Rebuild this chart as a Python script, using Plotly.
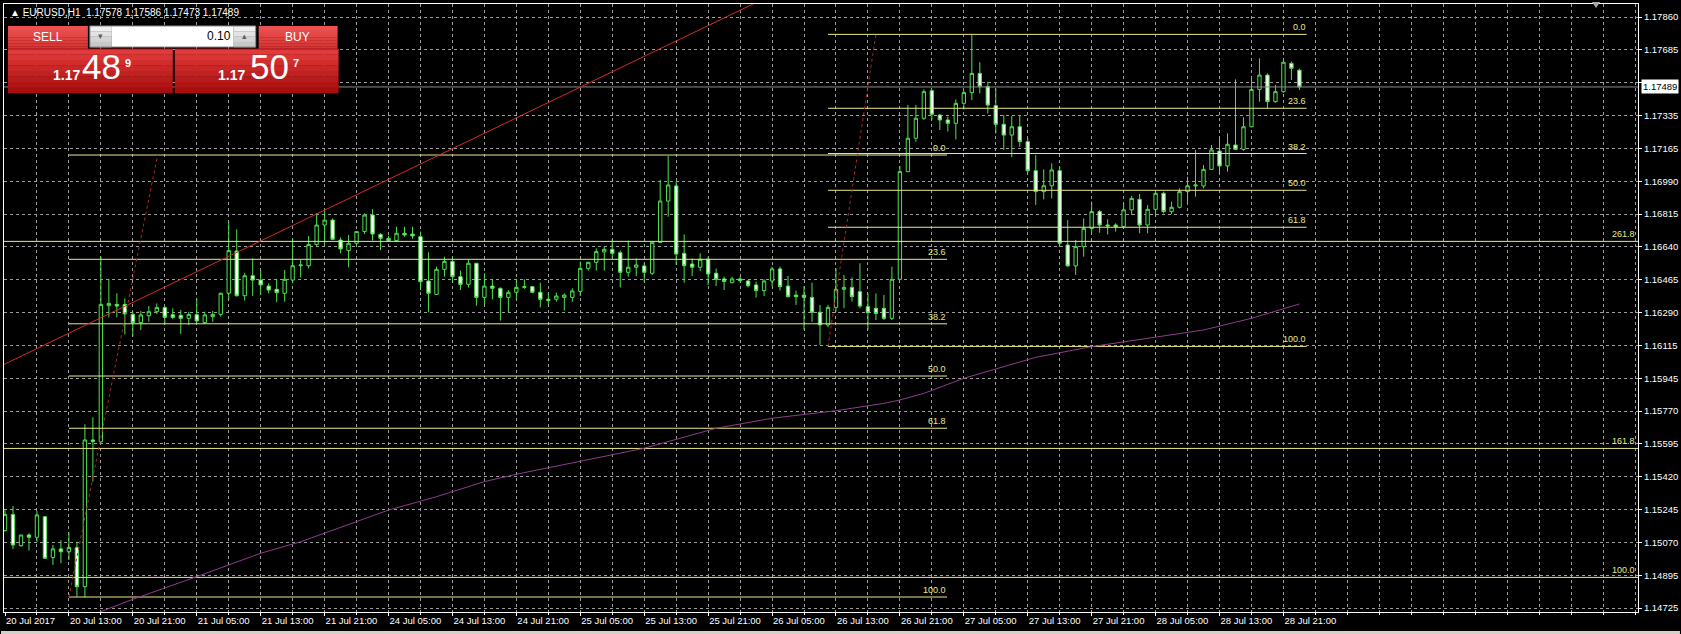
import numpy as np
import plotly.graph_objects as go

# ---- chart data (EURUSD H1) ----
date_labels = ["20 Jul 2017", "20 Jul 13:00", "20 Jul 21:00", "21 Jul 05:00", "21 Jul 13:00",
               "21 Jul 21:00", "24 Jul 05:00", "24 Jul 13:00", "24 Jul 21:00", "25 Jul 05:00",
               "25 Jul 13:00", "25 Jul 21:00", "26 Jul 05:00", "26 Jul 13:00", "26 Jul 21:00",
               "27 Jul 05:00", "27 Jul 13:00", "27 Jul 21:00", "28 Jul 05:00", "28 Jul 13:00",
               "28 Jul 21:00"]

price_labels = ["1.17860", "1.17685", "1.17510", "1.17335", "1.17165", "1.16990", "1.16815",
                "1.16640", "1.16465", "1.16290", "1.16115", "1.15945", "1.15770", "1.15595",
                "1.15420", "1.15245", "1.15070", "1.14895", "1.14725"]

opens = [1.15136, 1.15222, 1.15056, 1.15113, 1.15101, 1.15210, 1.14993, 1.15039, 1.15024, 1.15046,
         1.14839, 1.15617, 1.15608, 1.16329, 1.16336, 1.16336, 1.16283, 1.16239, 1.16276, 1.16297,
         1.16319, 1.16281, 1.16278, 1.16262, 1.16281, 1.16239, 1.16271, 1.16283, 1.16395, 1.16619,
         1.16382, 1.16488, 1.16465, 1.16433, 1.16416, 1.16395, 1.16465, 1.16541, 1.16541, 1.16654,
         1.16757, 1.16783, 1.16677, 1.16621, 1.16660, 1.16722, 1.16810, 1.16707, 1.16686, 1.16674,
         1.16713, 1.16709, 1.16695, 1.16460, 1.16389, 1.16522, 1.16564, 1.16483, 1.16442, 1.16554,
         1.16373, 1.16433, 1.16421, 1.16373, 1.16400, 1.16426, 1.16430, 1.16400, 1.16363, 1.16363,
         1.16373, 1.16373, 1.16405, 1.16527, 1.16559, 1.16614, 1.16628, 1.16610, 1.16506, 1.16533,
         1.16540, 1.16501, 1.16665, 1.16884, 1.16964, 1.16607, 1.16550, 1.16533, 1.16575, 1.16501,
         1.16471, 1.16451, 1.16471, 1.16460, 1.16439, 1.16409, 1.16460, 1.16524, 1.16433, 1.16385,
         1.16385, 1.16373, 1.16294, 1.16227, 1.16320, 1.16416, 1.16426, 1.16403, 1.16324, 1.16315,
         1.16315, 1.16262, 1.16469, 1.17040, 1.17217, 1.17323, 1.17469, 1.17340, 1.17314, 1.17296,
         1.17402, 1.17459, 1.17561, 1.17491, 1.17390, 1.17291, 1.17234, 1.17278, 1.17199, 1.17045,
         1.16934, 1.16965, 1.17045, 1.16651, 1.16540, 1.16642, 1.16739, 1.16828, 1.16757, 1.16757,
         1.16748, 1.16837, 1.16893, 1.16757, 1.16840, 1.16925, 1.16828, 1.16851, 1.16934, 1.16964,
         1.16964, 1.17052, 1.17149, 1.17070, 1.17181, 1.17158, 1.17278, 1.17476, 1.17552, 1.17411,
         1.17464, 1.17614, 1.17578]
highs = [1.15245, 1.15267, 1.15113, 1.15122, 1.15240, 1.15213, 1.15060, 1.15086, 1.15127, 1.15077,
         1.15700, 1.15737, 1.16589, 1.16471, 1.16395, 1.16368, 1.16297, 1.16301, 1.16327, 1.16341,
         1.16327, 1.16315, 1.16306, 1.16297, 1.16368, 1.16297, 1.16301, 1.16398, 1.16775, 1.16734,
         1.16504, 1.16580, 1.16518, 1.16448, 1.16471, 1.16518, 1.16686, 1.16571, 1.16699, 1.16819,
         1.16836, 1.16792, 1.16691, 1.16704, 1.16722, 1.16819, 1.16840, 1.16713, 1.16699, 1.16748,
         1.16748, 1.16748, 1.16722, 1.16612, 1.16536, 1.16589, 1.16589, 1.16515, 1.16575, 1.16554,
         1.16501, 1.16471, 1.16426, 1.16412, 1.16471, 1.16469, 1.16433, 1.16451, 1.16398, 1.16398,
         1.16394, 1.16421, 1.16562, 1.16562, 1.16633, 1.16642, 1.16681, 1.16621, 1.16674, 1.16580,
         1.16554, 1.16665, 1.16996, 1.17123, 1.16987, 1.16707, 1.16580, 1.16607, 1.16589, 1.16527,
         1.16483, 1.16483, 1.16483, 1.16465, 1.16456, 1.16469, 1.16536, 1.16536, 1.16487, 1.16409,
         1.16433, 1.16451, 1.16333, 1.16333, 1.16527, 1.16492, 1.16479, 1.16554, 1.16394, 1.16394,
         1.16386, 1.16536, 1.17070, 1.17393, 1.17393, 1.17476, 1.17476, 1.17346, 1.17332, 1.17423,
         1.17469, 1.17768, 1.17620, 1.17517, 1.17482, 1.17340, 1.17335, 1.17335, 1.17217, 1.17128,
         1.17052, 1.17084, 1.17066, 1.16783, 1.16677, 1.16792, 1.16881, 1.16837, 1.16787, 1.16766,
         1.16875, 1.16911, 1.16921, 1.16863, 1.16934, 1.16934, 1.16881, 1.16951, 1.17013, 1.17155,
         1.17075, 1.17181, 1.17225, 1.17243, 1.17529, 1.17328, 1.17544, 1.17641, 1.17561, 1.17499,
         1.17637, 1.17623, 1.17586]
lows = [1.15131, 1.15037, 1.15051, 1.15030, 1.15077, 1.14986, 1.14954, 1.14963, 1.14980, 1.14786,
        1.14782, 1.15396, 1.15599, 1.16267, 1.16267, 1.16177, 1.16165, 1.16200, 1.16244, 1.16285,
        1.16232, 1.16257, 1.16179, 1.16227, 1.16239, 1.16232, 1.16244, 1.16271, 1.16359, 1.16377,
        1.16356, 1.16380, 1.16386, 1.16395, 1.16347, 1.16350, 1.16448, 1.16479, 1.16527, 1.16642,
        1.16656, 1.16677, 1.16607, 1.16532, 1.16651, 1.16709, 1.16674, 1.16624, 1.16670, 1.16670,
        1.16695, 1.16684, 1.16412, 1.16294, 1.16386, 1.16483, 1.16451, 1.16412, 1.16425, 1.16329,
        1.16329, 1.16363, 1.16250, 1.16294, 1.16359, 1.16418, 1.16395, 1.16320, 1.16333, 1.16350,
        1.16303, 1.16350, 1.16380, 1.16515, 1.16515, 1.16515, 1.16580, 1.16426, 1.16483, 1.16486,
        1.16456, 1.16492, 1.16663, 1.16801, 1.16545, 1.16451, 1.16486, 1.16513, 1.16439, 1.16433,
        1.16412, 1.16448, 1.16451, 1.16426, 1.16372, 1.16380, 1.16433, 1.16409, 1.16372, 1.16333,
        1.16200, 1.16244, 1.16121, 1.16214, 1.16297, 1.16315, 1.16351, 1.16315, 1.16200, 1.16253,
        1.16253, 1.16253, 1.16465, 1.17040, 1.17199, 1.17314, 1.17314, 1.17261, 1.17252, 1.17211,
        1.17370, 1.17420, 1.17455, 1.17349, 1.17243, 1.17155, 1.17116, 1.17172, 1.17031, 1.16863,
        1.16893, 1.16898, 1.16642, 1.16536, 1.16492, 1.16589, 1.16713, 1.16716, 1.16707, 1.16722,
        1.16739, 1.16810, 1.16713, 1.16713, 1.16801, 1.16819, 1.16815, 1.16845, 1.16872, 1.16907,
        1.16951, 1.17049, 1.17031, 1.17040, 1.17155, 1.17151, 1.17275, 1.17411, 1.17376, 1.17406,
        1.17459, 1.17526, 1.17473]
closes = [1.15222, 1.15060, 1.15113, 1.15101, 1.15219, 1.14989, 1.15039, 1.15024, 1.15047, 1.14839,
          1.15617, 1.15608, 1.16336, 1.16341, 1.16327, 1.16285, 1.16239, 1.16280, 1.16297, 1.16319,
          1.16267, 1.16267, 1.16262, 1.16283, 1.16248, 1.16280, 1.16283, 1.16395, 1.16621, 1.16382,
          1.16488, 1.16465, 1.16439, 1.16412, 1.16398, 1.16469, 1.16541, 1.16545, 1.16654, 1.16757,
          1.16783, 1.16681, 1.16630, 1.16660, 1.16722, 1.16810, 1.16709, 1.16686, 1.16674, 1.16713,
          1.16704, 1.16699, 1.16456, 1.16395, 1.16522, 1.16564, 1.16483, 1.16442, 1.16554, 1.16373,
          1.16433, 1.16421, 1.16373, 1.16400, 1.16426, 1.16430, 1.16400, 1.16363, 1.16356, 1.16380,
          1.16385, 1.16407, 1.16527, 1.16559, 1.16616, 1.16628, 1.16607, 1.16506, 1.16533, 1.16545,
          1.16506, 1.16665, 1.16884, 1.16969, 1.16603, 1.16541, 1.16533, 1.16575, 1.16497, 1.16469,
          1.16457, 1.16471, 1.16462, 1.16435, 1.16409, 1.16460, 1.16524, 1.16430, 1.16377, 1.16377,
          1.16373, 1.16294, 1.16227, 1.16320, 1.16416, 1.16426, 1.16377, 1.16327, 1.16292, 1.16288,
          1.16262, 1.16469, 1.17040, 1.17217, 1.17323, 1.17464, 1.17344, 1.17314, 1.17296, 1.17402,
          1.17459, 1.17561, 1.17491, 1.17393, 1.17291, 1.17234, 1.17278, 1.17199, 1.17045, 1.16934,
          1.16965, 1.17049, 1.16660, 1.16540, 1.16642, 1.16739, 1.16828, 1.16757, 1.16752, 1.16748,
          1.16837, 1.16898, 1.16757, 1.16840, 1.16925, 1.16828, 1.16851, 1.16934, 1.16965, 1.16969,
          1.17052, 1.17155, 1.17070, 1.17185, 1.17158, 1.17278, 1.17476, 1.17552, 1.17411, 1.17464,
          1.17620, 1.17588, 1.17489]

# moving average (purple), sampled points (bar index, price)
ma_bar = [11, 16, 24, 32, 37, 44, 48, 54, 60, 64, 72, 80, 89, 96, 104, 110, 112, 115, 120, 129,
          136, 143, 150, 156, 162]
ma_price = [1.14690, 1.14772, 1.14892, 1.15016, 1.15077, 1.15183, 1.15245, 1.15316, 1.15396,
            1.15435, 1.15505, 1.15573, 1.15679, 1.15732, 1.15772, 1.15811, 1.15829, 1.15864,
            1.15944, 1.16055, 1.16112, 1.16156, 1.16200, 1.16262, 1.16338]

# red trend line (two anchor points)
trend_bar = [-0.5, 94.6]
trend_price = [1.16010, 1.17949]

# fibonacci retracements
fibo_levels = ["0.0", "23.6", "38.2", "50.0", "61.8", "100.0"]
fibo_a_prices = [1.17128, 1.16575, 1.16233, 1.15956, 1.15679, 1.14784]
fibo_a_span = [8, 117.9]
fibo_a_diag = ([8, 19.1], [1.14784, 1.17128])
fibo_b_prices = [1.17768, 1.17376, 1.17136, 1.16941, 1.16745, 1.16113]
fibo_b_span = [103, 162.9]
fibo_b_diag = ([103, 109], [1.16113, 1.17768])
fibo_c_levels = ["100.0", "161.8", "261.8"]
fibo_c_prices = [1.14888, 1.15572, 1.16670]

last_price = 1.17489
title_text = "EURUSD,H1  1.17578 1.17586 1.17473 1.17489"

# ---- geometry / styles ----
W, H = 1681, 634
PL, PR, PT, PB = 3, 1639, 4, 612
GREEN = "#4ee04e"
FIB = "#e8e88c"
GRID = "#9c9c9c"
FONT = "Liberation Sans, Arial, sans-serif"


def px(x):
    return (x - PL) / (PR - PL)


def py(y):
    return (PB - y) / (PB - PT)


bars = list(range(len(opens)))
fig = go.Figure()

# fibo level lines (behind candles)
for p in fibo_a_prices:
    fig.add_trace(go.Scatter(x=fibo_a_span, y=[p, p], mode="lines",
                             line=dict(color=FIB, width=1), hoverinfo="skip", showlegend=False))
for p in fibo_b_prices:
    fig.add_trace(go.Scatter(x=fibo_b_span, y=[p, p], mode="lines",
                             line=dict(color=FIB, width=1), hoverinfo="skip", showlegend=False))
for p in fibo_c_prices:
    fig.add_trace(go.Scatter(x=[-1, 206], y=[p, p], mode="lines",
                             line=dict(color=FIB, width=1), hoverinfo="skip", showlegend=False))

# current price line
fig.add_trace(go.Scatter(x=[-1, 206], y=[last_price, last_price], mode="lines",
                         line=dict(color="#8a8a8a", width=1), hoverinfo="skip", showlegend=False))

# fibo diagonals (dotted) and trend line
for d in (fibo_a_diag, fibo_b_diag):
    fig.add_trace(go.Scatter(x=d[0], y=d[1], mode="lines",
                             line=dict(color="#b02828", width=1, dash="dot"),
                             hoverinfo="skip", showlegend=False))
fig.add_trace(go.Scatter(x=trend_bar, y=trend_price, mode="lines",
                         line=dict(color="#d42a2a", width=1), hoverinfo="skip", showlegend=False))

# moving average
fig.add_trace(go.Scatter(x=ma_bar, y=ma_price, mode="lines",
                         line=dict(color="#8e3c8e", width=1), hoverinfo="skip", showlegend=False))

# candles
fig.add_trace(go.Candlestick(
    x=bars, open=opens, high=highs, low=lows, close=closes,
    increasing=dict(line=dict(color=GREEN, width=1), fillcolor="#000000"),
    decreasing=dict(line=dict(color=GREEN, width=1), fillcolor="#ffffff"),
    whiskerwidth=0, showlegend=False, hoverinfo="skip"))

annotations = []
lab_font = dict(size=9, color=FIB, family=FONT)
for lv, p in zip(fibo_levels, fibo_a_prices):
    annotations.append(dict(x=fibo_a_span[1], y=p, xref="x", yref="y", text=lv, showarrow=False,
                            xanchor="right", yanchor="bottom", font=lab_font, borderpad=0, yshift=1))
for lv, p in zip(fibo_levels, fibo_b_prices):
    annotations.append(dict(x=fibo_b_span[1], y=p, xref="x", yref="y", text=lv, showarrow=False,
                            xanchor="right", yanchor="bottom", font=lab_font, borderpad=0, yshift=1))
for lv, p in zip(fibo_c_levels, fibo_c_prices):
    annotations.append(dict(x=1, y=p, xref="paper", yref="y", text=lv, showarrow=False,
                            xanchor="right", yanchor="bottom", font=lab_font,
                            borderpad=0, xshift=-2, yshift=1))

# current price box on the price scale
annotations.append(dict(x=1, y=last_price, xref="paper", yref="y", text="1.17489", showarrow=False,
                        xanchor="left", yanchor="middle", bgcolor="#ffffff", borderpad=1, xshift=3,
                        font=dict(size=9.5, color="#000000", family=FONT)))

# chart title
annotations.append(dict(x=px(7), y=py(13), xref="paper", yref="paper", text="▲ " + title_text,
                        showarrow=False, xanchor="left", yanchor="middle",
                        font=dict(size=10, color="#ffffff", family=FONT)))

shapes = []


def hexmix(c1, c2, t):
    a = [int(c1[i:i + 2], 16) for i in (1, 3, 5)]
    b = [int(c2[i:i + 2], 16) for i in (1, 3, 5)]
    return "#" + "".join("%02x" % round(a[k] + (b[k] - a[k]) * t) for k in range(3))


def rect(x0, y0, x1, y1, fill, line=None):
    shapes.append(dict(type="rect", xref="paper", yref="paper", x0=px(x0), x1=px(x1),
                       y0=py(y1), y1=py(y0), fillcolor=fill, layer="above",
                       line=dict(width=1 if line else 0, color=line or fill)))


def grad(x0, y0, x1, y1, c_top, c_bot, n=8):
    h = (y1 - y0) / n
    for k in range(n):
        rect(x0, y0 + k * h, x1, y0 + (k + 1) * h + 0.3, hexmix(c_top, c_bot, k / (n - 1)))


def text(x, y, s, size, color="#ffffff", anchor="left", bold=False):
    annotations.append(dict(x=px(x), y=py(y), xref="paper", yref="paper", showarrow=False,
                            text="<b>%s</b>" % s if bold else s, xanchor=anchor, yanchor="middle",
                            borderpad=0, font=dict(size=size, color=color, family=FONT)))


# one-click trading panel
grad(7, 26, 87, 49, "#ec5252", "#d83232")
grad(258, 26, 337, 49, "#ec5252", "#d83232")
grad(7, 49, 172, 93, "#e23a3a", "#a80e0e")
grad(174, 49, 338, 93, "#e23a3a", "#a80e0e")
rect(7, 48.5, 172, 49.5, "#9c1414")
rect(174, 48.5, 338, 49.5, "#9c1414")
grad(89, 26, 111, 47, "#f0f0f0", "#c8c8c8", n=4)
grad(233, 26, 255, 47, "#f0f0f0", "#c8c8c8", n=4)
rect(111, 26, 233, 47, "#ffffff")
shapes.append(dict(type="rect", xref="paper", yref="paper", x0=px(89), x1=px(255), y0=py(47), y1=py(26),
                   line=dict(color="#8a8a8a", width=1), layer="above"))
text(47, 37, "SELL", 12, anchor="center")
text(297, 37, "BUY", 12, anchor="center")
text(231, 36, "0.10", 12, color="#000000", anchor="right")
text(100, 36, "▾", 9, color="#606060", anchor="center")
text(244, 36, "▴", 9, color="#606060", anchor="center")
text(51, 75, "1.17", 14, bold=True)
text(80, 67, "48", 35)
text(123, 63, "9", 11, bold=True)
text(216, 75, "1.17", 14, bold=True)
text(248, 67, "50", 35)
text(291, 63, "7", 11, bold=True)

# chart-shift marker and bottom window strip
shapes.append(dict(type="path", xref="paper", yref="paper",
                   path="M %f %f L %f %f L %f %f Z" % (px(1593), py(2), px(1601), py(2), px(1597), py(8)),
                   fillcolor="#a8a8a8", line=dict(width=0), layer="above"))
rect(0, 631, 1681, 634, "#d4d0c8")

grid_common = dict(showgrid=True, gridcolor=GRID, gridwidth=1, griddash="3px,3px",
                   showline=True, linecolor="#ffffff", linewidth=1, mirror=True, zeroline=False,
                   ticks="outside", tickcolor="#ffffff", ticklen=3)

fig.update_layout(
    width=W, height=H,
    paper_bgcolor="#000000", plot_bgcolor="#000000",
    margin=dict(l=PL, r=W - PR, t=PT, b=H - PB),
    boxgap=0.4,
    showlegend=False,
    xaxis=dict(range=[(PL - 4) / 8, (PR - 4) / 8], tickmode="array",
               tickvals=list(range(0, 8 * len(date_labels), 8)), ticktext=date_labels,
               ticklabelposition="outside right", tickangle=0, rangeslider=dict(visible=False),
               tickfont=dict(size=9.5, color="#ffffff", family=FONT),
               minor=dict(tickmode="linear", tick0=0, dtick=4, showgrid=True, gridcolor=GRID,
                          griddash="3px,3px", ticks="outside", ticklen=2, tickcolor="#ffffff"),
               **grid_common),
    yaxis=dict(range=[1.147045, 1.179290], side="right", tickmode="array",
               tickvals=list(np.linspace(1.17860, 1.14725, len(price_labels))), ticktext=price_labels,
               tickfont=dict(size=9.5, color="#ffffff", family=FONT),
               **grid_common),
    annotations=annotations,
    shapes=shapes,
)

# the page's default body margin would shift the figure by 8px
fig.write_html("out.html", config={"displayModeBar": False},
               post_script="document.body.style.margin='0';document.body.style.background='#000';"
                           "document.body.style.overflow='hidden';")
